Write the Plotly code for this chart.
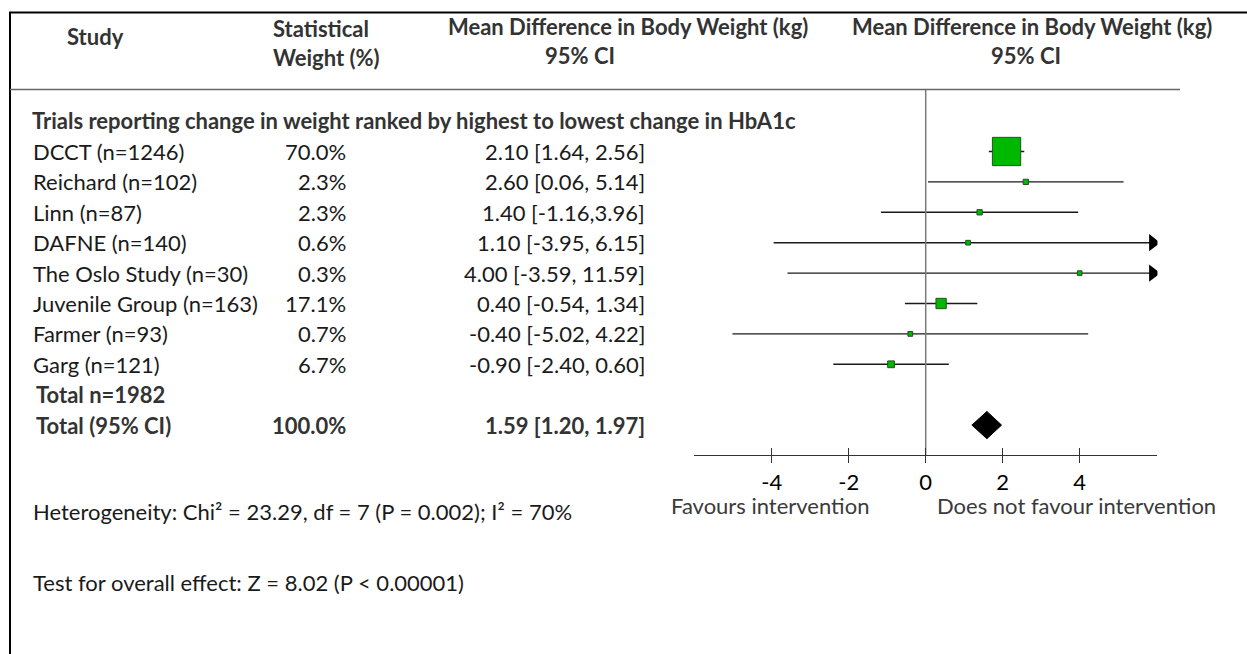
import plotly.graph_objects as go

# data
studies = ["DCCT (n=1246)", "Reichard (n=102)", "Linn (n=87)", "DAFNE (n=140)",
           "The Oslo Study (n=30)", "Juvenile Group (n=163)", "Farmer (n=93)", "Garg (n=121)"]
weights = [70.0, 2.3, 2.3, 0.6, 0.3, 17.1, 0.7, 6.7]
md = [2.10, 2.60, 1.40, 1.10, 4.00, 0.40, -0.40, -0.90]
ci_lo = [1.64, 0.06, -1.16, -3.95, -3.59, -0.54, -5.02, -2.40]
ci_hi = [2.56, 5.14, 3.96, 6.15, 11.59, 1.34, 4.22, 0.60]
ci_labels = ["2.10 [1.64, 2.56]", "2.60 [0.06, 5.14]", "1.40 [-1.16,3.96]", "1.10 [-3.95, 6.15]",
             "4.00 [-3.59, 11.59]", "0.40 [-0.54, 1.34]", "-0.40 [-5.02, 4.22]", "-0.90 [-2.40, 0.60]"]
total_n = 1982
total_md, total_lo, total_hi = 1.59, 1.20, 1.97
total_weight = 100.0
tick_vals = [-4, -2, 0, 2, 4]
x_lim = 6.02

W, H = 1247, 654
FONT = "Lato"
FS = 22
TXT = "#1a1a1a"
HDR = "#333333"
ROW0, STEP = 151.5, 30.4


def px(x):
    return x / W


def py(y):
    return 1 - y / H


def row_of(y):
    return (y - ROW0) / STEP


fig = go.Figure()

n = len(studies)
rows = list(range(n))

# CI lines, clipped at the axis with arrows
arrow_x = x_lim - 0.12
for i in rows:
    hi = min(ci_hi[i], arrow_x - 0.05)
    fig.add_trace(go.Scatter(x=[ci_lo[i], hi], y=[i, i], mode="lines",
                             line=dict(color="#1a1a1a", width=1.4), hoverinfo="skip"))
    if ci_hi[i] > x_lim:
        fig.add_trace(go.Scatter(x=[arrow_x], y=[i], mode="markers",
                                 marker=dict(symbol="triangle-right", size=15, color="black", opacity=1),
                                 hoverinfo="skip"))

# weighted squares
fig.add_trace(go.Scatter(
    x=md, y=rows, mode="markers",
    marker=dict(symbol="square", size=[4.5 + 0.34 * w for w in weights], opacity=1,
                color="#00b800", line=dict(color="#235023", width=1)),
    hoverinfo="skip"))

# pooled diamond
tr = n + 1
fig.add_trace(go.Scatter(
    x=[total_lo, total_md, total_hi, total_md, total_lo],
    y=[tr, tr - 0.45, tr, tr + 0.45, tr],
    mode="lines", fill="toself", fillcolor="black",
    line=dict(color="black", width=1), hoverinfo="skip"))

# line of no effect
fig.add_trace(go.Scatter(x=[0, 0], y=[row_of(89.5), row_of(455)], mode="lines",
                         line=dict(color="#7a7a7a", width=1.5), xaxis="x2", hoverinfo="skip"))

ann = []


def text(x, y, s, anchor="left", bold=False, color=TXT, size=FS, yref="y"):
    if bold:
        s = "<b>" + s + "</b>"
    ann.append(dict(x=x, y=y, xref="paper", yref=yref, text=s, showarrow=False, borderpad=0,
                    xanchor=anchor, yanchor="middle", font=dict(family=FONT, size=size, color=color)))


# header
text(px(95), py(36), "Study", "center", True, HDR, yref="paper")
text(px(272), py(29), "Statistical", "left", True, HDR, yref="paper")
text(px(272), py(58), "Weight (%)", "left", True, HDR, yref="paper")
text(px(628), py(27), "Mean Difference in Body Weight (kg)", "center", True, HDR, yref="paper")
text(px(580), py(56), "95% CI", "center", True, HDR, yref="paper")
text(px(1032), py(27), "Mean Difference in Body Weight (kg)", "center", True, HDR, yref="paper")
text(px(1026), py(56), "95% CI", "center", True, HDR, yref="paper")
text(px(31), py(120), "Trials reporting change in weight ranked by highest to lowest change in HbA1c",
     "left", True, HDR, yref="paper")

for i in rows:
    text(px(32), i, studies[i])
    text(px(347), i, f"{weights[i]:.1f}%", "right")
    text(px(646), i, ci_labels[i], "right")

text(px(35), n, f"Total n={total_n}", bold=True, color=HDR)
text(px(35), n + 1, "Total (95% CI)", bold=True, color=HDR)
text(px(347), n + 1, f"{total_weight:.1f}%", "right", True, HDR)
text(px(646), n + 1, f"{total_md:.2f} [{total_lo:.2f}, {total_hi:.2f}]", "right", True, HDR)

text(px(870), py(506), "Favours intervention", "right", color="#3a3a3a", yref="paper")
text(px(936), py(506), "Does not favour intervention", "left", color="#3a3a3a", yref="paper")
text(px(32), py(511), "Heterogeneity: Chi² = 23.29, df = 7 (P = 0.002); I² = 70%", yref="paper")
text(px(32), py(582), "Test for overall effect: Z = 8.02 (P < 0.00001)", yref="paper")

shapes = [
    dict(type="line", xref="paper", yref="paper", x0=px(9), x1=1, y0=py(12.5), y1=py(12.5),
         line=dict(color="black", width=2)),
    dict(type="line", xref="paper", yref="paper", x0=px(10), x1=px(10), y0=py(12), y1=0,
         line=dict(color="black", width=2)),
    dict(type="line", xref="paper", yref="paper", x0=px(10), x1=px(1180), y0=py(89.5), y1=py(89.5),
         line=dict(color="#666666", width=1.5)),
]

axis_pos = py(455)
dom = [px(925.7 - x_lim * 38.5), px(925.7 + x_lim * 38.5)]

fig.update_layout(
    width=W, height=H, margin=dict(l=0, r=0, t=0, b=0),
    paper_bgcolor="white", plot_bgcolor="rgba(0,0,0,0)",
    showlegend=False, annotations=ann, shapes=shapes,
    xaxis=dict(domain=dom, range=[-x_lim, x_lim], anchor="free", position=axis_pos,
               showline=True, linecolor="#333333", linewidth=1.4,
               ticks="outside", ticklen=7, tickwidth=1.3, tickcolor="#333333",
               tickvals=tick_vals, ticktext=[str(v) for v in tick_vals],
               tickfont=dict(family=FONT, size=FS, color="black"), ticklabelstandoff=0,
               showgrid=False, zeroline=False, fixedrange=True),
    xaxis2=dict(overlaying="x", range=[-x_lim, x_lim], anchor="free", position=axis_pos,
                showline=False, ticks="inside", ticklen=7, tickwidth=1.3, tickcolor="#333333",
                tickvals=tick_vals, showticklabels=False,
                showgrid=False, zeroline=False, fixedrange=True),
    yaxis=dict(domain=[0, 1], range=[(H - ROW0) / STEP, -ROW0 / STEP], visible=False, fixedrange=True),
)

fig.write_html("out.html", config={"displayModeBar": False},
               post_script="document.body.style.margin='0';")
